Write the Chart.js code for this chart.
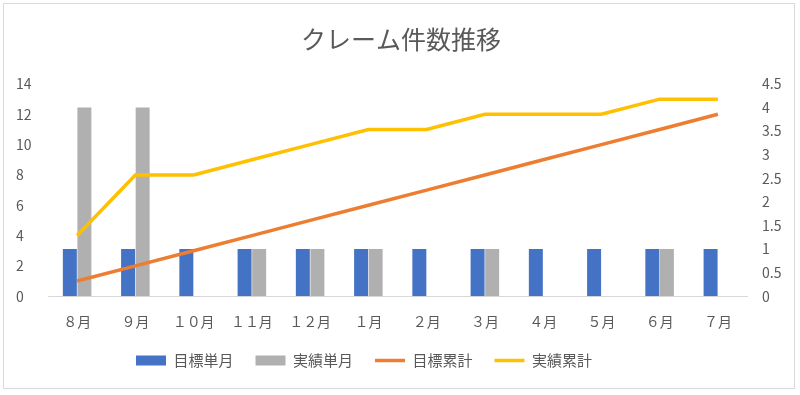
<!DOCTYPE html>
<html lang="ja">
<head>
  <meta charset="UTF-8" />
  <title>クレーム件数推移</title>
  <script src="https://cdn.jsdelivr.net/npm/chart.js"></script>
  <style>
    body { margin: 0; background: #fff; }
    .box {
      position: absolute; left: 3px; top: 3px;
      width: 790px; height: 384px;
      border: 1px solid #d9d9d9;
    }
  </style>
</head>
<body>
  <div class="box"><canvas id="grafico"></canvas></div>

  <script>
    const meses = ["８月", "９月", "１０月", "１１月", "１２月", "１月", "２月", "３月", "４月", "５月", "６月", "７月"];
    const mokuhyoTangetsu = [1, 1, 1, 1, 1, 1, 1, 1, 1, 1, 1, 1];
    const jissekiTangetsu = [4, 4, 0, 1, 1, 1, 0, 1, 0, 0, 1, 0];
    const mokuhyoRuikei = [1, 2, 3, 4, 5, 6, 7, 8, 9, 10, 11, 12];
    const jissekiRuikei = [4, 8, 8, 9, 10, 11, 11, 12, 12, 12, 13, 13];

    const cinza = "#595959";
    const fonte = "'Noto Sans CJK JP', 'Noto Sans', sans-serif";

    // a legenda fica um pouco à esquerda e mais perto do eixo, como no original
    const moveLegenda = {
      id: 'moveLegenda',
      afterLayout(chart) {
        const l = chart.legend;
        l.left -= 37; l.right -= 37;
        l.top -= 8; l.bottom -= 8;
      }
    };

    const ctx = document.getElementById("grafico").getContext("2d");
    new Chart(ctx, {
      data: {
        labels: meses,
        datasets: [
          {
            type: 'bar', label: "目標単月", data: mokuhyoTangetsu, yAxisID: 'y1',
            backgroundColor: "#4472C4", borderWidth: 0, order: 1, pointStyle: 'rect',
            categoryPercentage: 0.5, barPercentage: 0.96
          },
          {
            type: 'bar', label: "実績単月", data: jissekiTangetsu, yAxisID: 'y1',
            backgroundColor: "#B0B0B0", borderWidth: 0, order: 1, pointStyle: 'rect',
            categoryPercentage: 0.5, barPercentage: 0.96
          },
          {
            type: 'line', label: "目標累計", data: mokuhyoRuikei, yAxisID: 'y',
            borderColor: "#ED7D31", backgroundColor: "#ED7D31", borderWidth: 3.5,
            pointRadius: 0, tension: 0, order: 0, pointStyle: 'line'
          },
          {
            type: 'line', label: "実績累計", data: jissekiRuikei, yAxisID: 'y',
            borderColor: "#FFC000", backgroundColor: "#FFC000", borderWidth: 3.5,
            pointRadius: 0, tension: 0, order: 0, pointStyle: 'line'
          }
        ]
      },
      plugins: [moveLegenda],
      options: {
        responsive: true,
        maintainAspectRatio: false,
        animation: false,
        layout: { padding: { left: 12, right: 8, top: 0, bottom: 2 } },
        plugins: {
          title: {
            display: true, text: "クレーム件数推移", color: cinza,
            font: { family: fonte, size: 25, weight: 'normal' },
            padding: { top: 20, bottom: 30 }
          },
          legend: {
            position: 'bottom',
            labels: {
              color: cinza, usePointStyle: true, pointStyleWidth: 30, boxHeight: 10,
              padding: 22, font: { family: fonte, size: 15 },
              sort: (a, b) => a.datasetIndex - b.datasetIndex
            }
          },
          tooltip: { enabled: false }
        },
        scales: {
          x: {
            grid: { display: false },
            border: { color: "#d9d9d9" },
            ticks: { color: cinza, font: { family: fonte, size: 14 }, padding: 9 }
          },
          y: {
            position: 'left', min: 0, max: 14,
            grid: { display: false }, border: { display: false },
            ticks: { stepSize: 2, color: cinza, font: { family: fonte, size: 14 }, crossAlign: 'far' },
            afterFit: s => { s.width = 32; }
          },
          y1: {
            position: 'right', min: 0, max: 4.5,
            grid: { display: false }, border: { display: false },
            ticks: {
              stepSize: 0.5, color: cinza, font: { family: fonte, size: 14 }, padding: 7,
              callback: v => String(v)
            },
            afterFit: s => { s.width = 39; }
          }
        }
      }
    });
  </script>
</body>
</html>
